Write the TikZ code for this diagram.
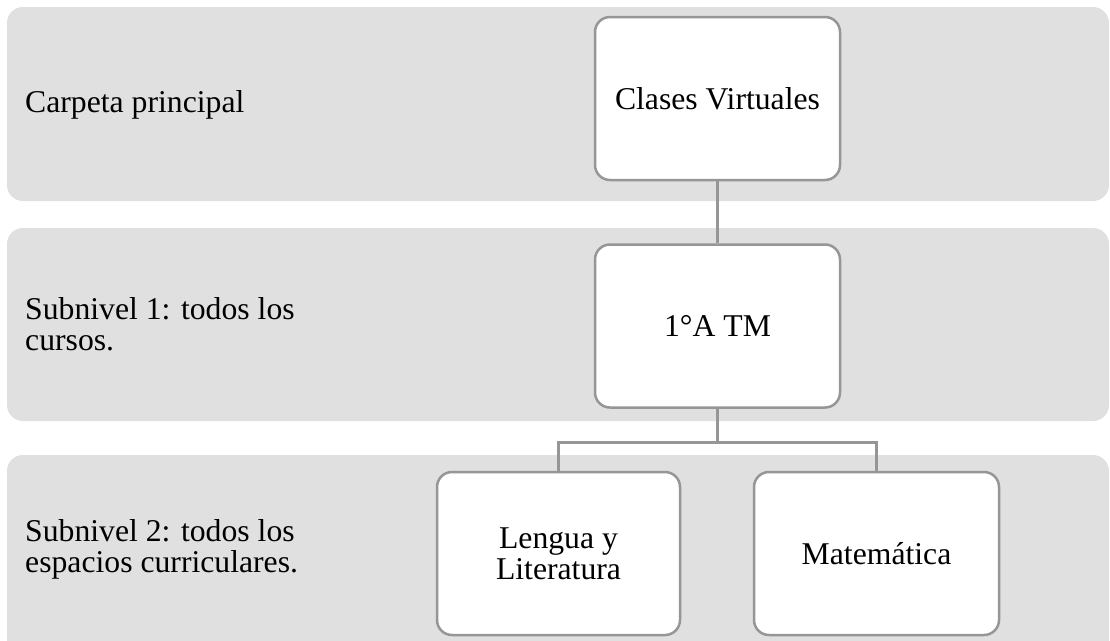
\documentclass[tikz,border=0pt]{standalone}
\usepackage{fontspec}
\setmainfont{Liberation Serif}
\definecolor{bandgray}{HTML}{E0E0E0}
\definecolor{linegray}{HTML}{969696}
\tikzset{
	band/.style={fill=bandgray, rounded corners=16pt},
	folder/.style={draw=linegray, line width=2.5pt, fill=white, rounded corners=15pt,
		minimum width=245pt, minimum height=163pt, inner sep=0pt, align=center,
		font=\fontsize{31.7}{31}\selectfont},
	levellabel/.style={anchor=west, align=left, inner sep=0pt,
		font=\fontsize{31.7}{31}\selectfont},
	link/.style={draw=linegray, line width=2.5pt}
}
\begin{document}
\begin{tikzpicture}[x=1pt,y=-1pt]
	\useasboundingbox (0,0) rectangle (1110,640);

	% background bands, one per level
	\fill[band] (7,7) rectangle (1109,201);
	\fill[band] (7,228) rectangle (1109,421);
	\fill[band] (7,455) rectangle (1109,662);

	% level labels
	\node[levellabel] (lvl0) at (25,105) {Carpeta principal};
	\node[levellabel] (lvl1) at (25,324) {Subnivel 1: todos los\\cursos.};
	\node[levellabel] (lvl2) at (25,549) {Subnivel 2: todos los\\espacios curriculares.};

	% folders
	\node[folder] (clases) at (717.5,98.5) {Clases Virtuales};
	\node[folder] (curso) at (717.5,326) {1°A TM};
	\node[folder, minimum width=243pt] (lengua) at (558.5,553.5) {Lengua y\\Literatura};
	\node[folder] (mate) at (876.5,553.5) {Matemática};

	% connectors
	\draw[link] (clases.south) -- (curso.north);
	\draw[link] (curso.south) -- ++(0,33.5) coordinate (split);
	\draw[link] (split) -| (lengua.north);
	\draw[link] (split) -| (mate.north);
\end{tikzpicture}
\end{document}
